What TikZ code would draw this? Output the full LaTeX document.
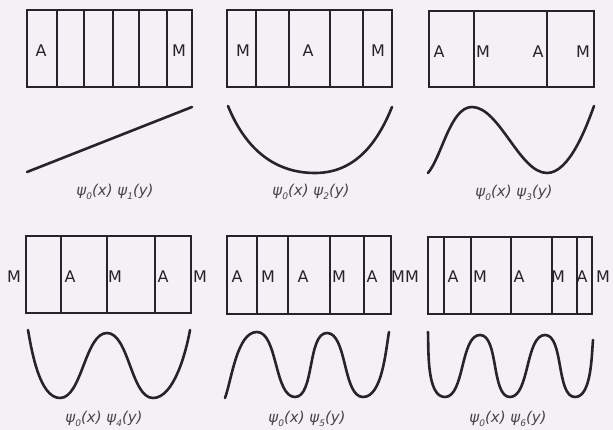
\documentclass[tikz,border=0pt]{standalone}
\usepackage{fontspec}
\setmainfont{DejaVu Sans}
\usepackage{tikz}
\usetikzlibrary{calc}
\definecolor{paper}{RGB}{243, 241, 245}
\definecolor{ink}{RGB}{38, 36, 42}
\newcommand{\wcap}[1]{\textit{ψ\raisebox{-0.45ex}{\small 0}(x) ψ\raisebox{-0.45ex}{\small #1}(y)}}

\begin{document}
\begin{tikzpicture}[x=1pt, y=1pt, ink,
    cell/.style={draw=ink, line width=1.2pt},
    wave/.style={draw=ink, line width=2.6pt, line cap=round, looseness=0.7},
    lab/.style={font=\fontsize{16}{18}\selectfont, inner sep=0pt},
    capt/.style={font=\fontsize{15}{17}\selectfont, inner sep=0pt, text=ink!85}]
  \fill[paper] (0,0) rectangle (613,-430);
  \useasboundingbox (0,0) rectangle (613,-430);

  % first row
  \draw[cell] (27,-10) rectangle (192,-87);
  \foreach \x in {57,84,113,139,167} \draw[cell] (\x,-10) -- (\x,-87);
  \node[lab] (a1) at (41,-51) {A};
  \node[lab] (m1) at (179,-51) {M};
  \draw[wave] (27,-172) -- (192,-107);
  \node[capt] (c1) at (115,-192) {\wcap{1}};

  \draw[cell] (227,-10) rectangle (392,-87);
  \foreach \x in {256,289,330,363} \draw[cell] (\x,-10) -- (\x,-87);
  \node[lab] (m2a) at (243,-51) {M};
  \node[lab] (a2) at (308,-51) {A};
  \node[lab] (m2b) at (378,-51) {M};
  \draw[wave, looseness=1] (228,-106) to[out=-68,in=180] (315,-173) to[out=0,in=-112] (392,-107);
  \node[capt] (c2) at (311,-192) {\wcap{2}};

  \draw[cell] (429,-11) rectangle (594,-87);
  \foreach \x in {474,547} \draw[cell] (\x,-11) -- (\x,-87);
  \node[lab] (a3a) at (439,-52) {A};
  \node[lab] (m3a) at (483,-52) {M};
  \node[lab] (a3b) at (538,-52) {A};
  \node[lab] (m3b) at (583,-52) {M};
  \draw[wave] (428,-173) to[out=50,in=180] (472,-107) to[out=0,in=180] (547,-173)
    to[out=0,in=-110] (594,-106);
  \node[capt] (c3) at (514,-193) {\wcap{3}};

  % second row
  \draw[cell] (26,-236) rectangle (191,-313);
  \foreach \x in {61,107,155} \draw[cell] (\x,-236) -- (\x,-313);
  \node[lab] (m4a) at (14,-277) {M};
  \node[lab] (a4a) at (70,-277) {A};
  \node[lab] (m4b) at (115,-277) {M};
  \node[lab] (a4b) at (163,-277) {A};
  \node[lab] (m4c) at (200,-277) {M};
  \draw[wave] (28,-330) to[out=-80,in=180] (60,-398) to[out=0,in=180] (107,-333)
    to[out=0,in=180] (153,-398) to[out=0,in=-100] (190,-330);
  \node[capt] (c4) at (104,-419) {\wcap{4}};

  \draw[cell] (227,-236) rectangle (391,-314);
  \foreach \x in {257,288,330,364} \draw[cell] (\x,-236) -- (\x,-314);
  \node[lab] (a5a) at (237,-277) {A};
  \node[lab] (m5a) at (268,-277) {M};
  \node[lab] (a5b) at (303,-277) {A};
  \node[lab] (m5b) at (339,-277) {M};
  \node[lab] (a5c) at (372,-277) {A};
  \node[lab] (m5c) at (398,-277) {M};
  \draw[wave] (225,-398) to[out=70,in=180] (257,-332) to[out=0,in=180] (295,-397)
    to[out=0,in=180] (327,-333) to[out=0,in=180] (363,-397) to[out=0,in=-100] (389,-332);
  \node[capt] (c5) at (307,-419) {\wcap{5}};

  \draw[cell] (428,-237) rectangle (592,-314);
  \foreach \x in {444,471,511,552,577} \draw[cell] (\x,-237) -- (\x,-314);
  \node[lab] (m6a) at (412,-277) {M};
  \node[lab] (a6a) at (453,-277) {A};
  \node[lab] (m6b) at (480,-277) {M};
  \node[lab] (a6b) at (519,-277) {A};
  \node[lab] (m6c) at (558,-277) {M};
  \node[lab] (a6c) at (582,-277) {A};
  \node[lab] (m6d) at (603,-277) {M};
  \draw[wave] (428,-332) to[out=-88,in=180] (445,-397) to[out=0,in=180] (480,-335)
    to[out=0,in=180] (510,-397) to[out=0,in=180] (545,-335) to[out=0,in=180] (575,-397)
    to[out=0,in=-95] (593,-340);
  \node[capt] (c6) at (508,-419) {\wcap{6}};
\end{tikzpicture}
\end{document}
